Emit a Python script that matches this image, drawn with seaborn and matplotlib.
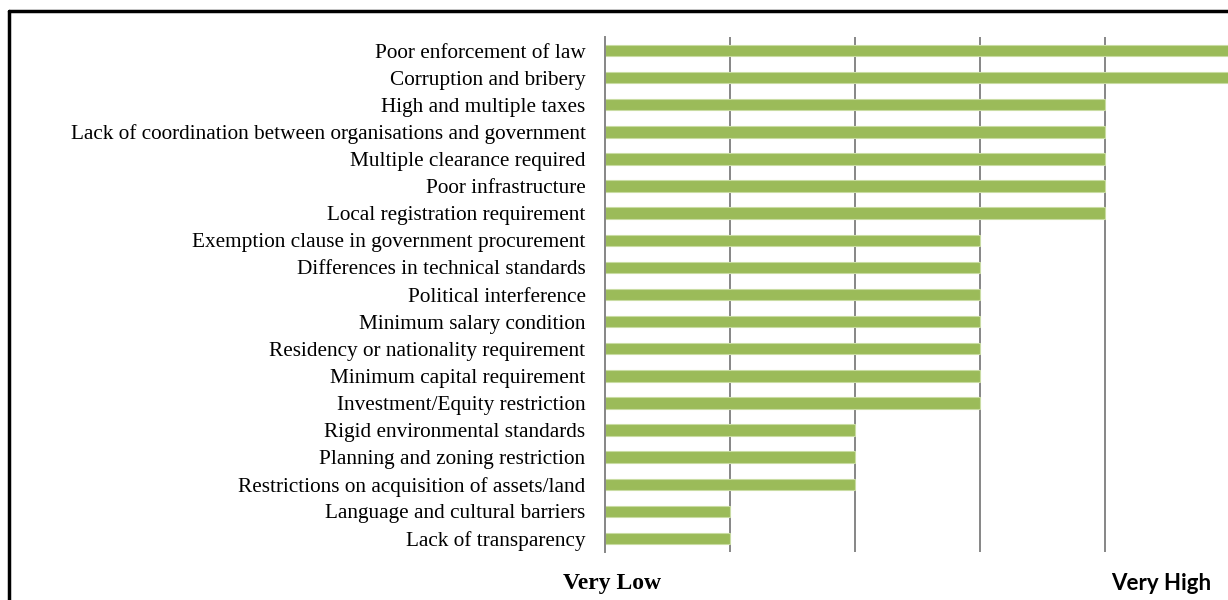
import matplotlib.pyplot as plt
import numpy as np
import pandas as pd
import seaborn as sns
from matplotlib.lines import Line2D

# barriers, top to bottom, and their rating (1 = very low ... 5 = very high)
barriers = [
    "Poor enforcement of law",
    "Corruption and bribery",
    "High and multiple taxes",
    "Lack of coordination between organisations and government",
    "Multiple clearance required",
    "Poor infrastructure",
    "Local registration requirement",
    "Exemption clause in government procurement",
    "Differences in technical standards",
    "Political interference",
    "Minimum salary condition",
    "Residency or nationality requirement",
    "Minimum capital requirement",
    "Investment/Equity restriction",
    "Rigid environmental standards",
    "Planning and zoning restriction",
    "Restrictions on acquisition of assets/land",
    "Language and cultural barriers",
    "Lack of transparency",
]
ratings = [5, 5, 4, 4, 4, 4, 4, 3, 3, 3, 3, 3, 3, 3, 2, 2, 2, 1, 1]
scale_labels = ["Very Low", "Very High"]

df = pd.DataFrame({"Barrier": barriers, "Rating": ratings})

sns.set_style("white")
plt.rcParams["font.family"] = ["Liberation Serif", "DejaVu Serif"]
plt.rcParams["text.color"] = "black"
plt.rcParams["ytick.labelcolor"] = "black"

fig = plt.figure(figsize=(12.28, 6.0), dpi=100)
ax = fig.add_axes([605 / 1228, 48 / 600, 625 / 1228, 515 / 600])

sns.barplot(data=df, x="Rating", y="Barrier", orient="h", color="#9BBB59",
            saturation=1, width=0.42, edgecolor="#C9DCA3", linewidth=0.8, ax=ax)

n = len(barriers)
ax.set_xlim(0, 5)
ax.set_ylim(n - 0.5, -0.5)
ax.set_xlabel("")
ax.set_ylabel("")
ax.set_xticks([1, 2, 3, 4, 5])
ax.set_xticklabels([])
ax.tick_params(axis="x", length=0)
ax.grid(axis="x", color="#868686", linewidth=1.4)
ax.set_axisbelow(True)

for side in ["top", "right", "bottom"]:
    ax.spines[side].set_visible(False)
ax.spines["left"].set_color("#868686")
ax.spines["left"].set_linewidth(1.4)

ax.set_yticks(np.arange(n))
ax.set_yticklabels(barriers, fontsize=15.3, color="black")
ax.set_yticks(np.arange(-0.5, n, 1), minor=True)
ax.tick_params(axis="y", which="major", length=0, pad=14)
ax.tick_params(axis="y", which="minor", length=6, width=1.4, color="#868686")

fig.text(612 / 1228, 1 - 583 / 600, scale_labels[0], ha="center", va="center",
         fontsize=17, fontweight="bold", family="Liberation Serif")
fig.text(1161 / 1228, 1 - 583 / 600, scale_labels[1], ha="center", va="center",
         fontsize=16, fontweight="bold", family="Lato")

# outer frame (only top and left edges show in the crop)
fig.add_artist(Line2D([9 / 1228, 9 / 1228], [0, 1 - 11 / 600], color="black",
                      linewidth=2.5, transform=fig.transFigure))
fig.add_artist(Line2D([9 / 1228, 1], [1 - 11 / 600, 1 - 11 / 600], color="black",
                      linewidth=2.5, transform=fig.transFigure))

fig.savefig("out.png", dpi=100)
